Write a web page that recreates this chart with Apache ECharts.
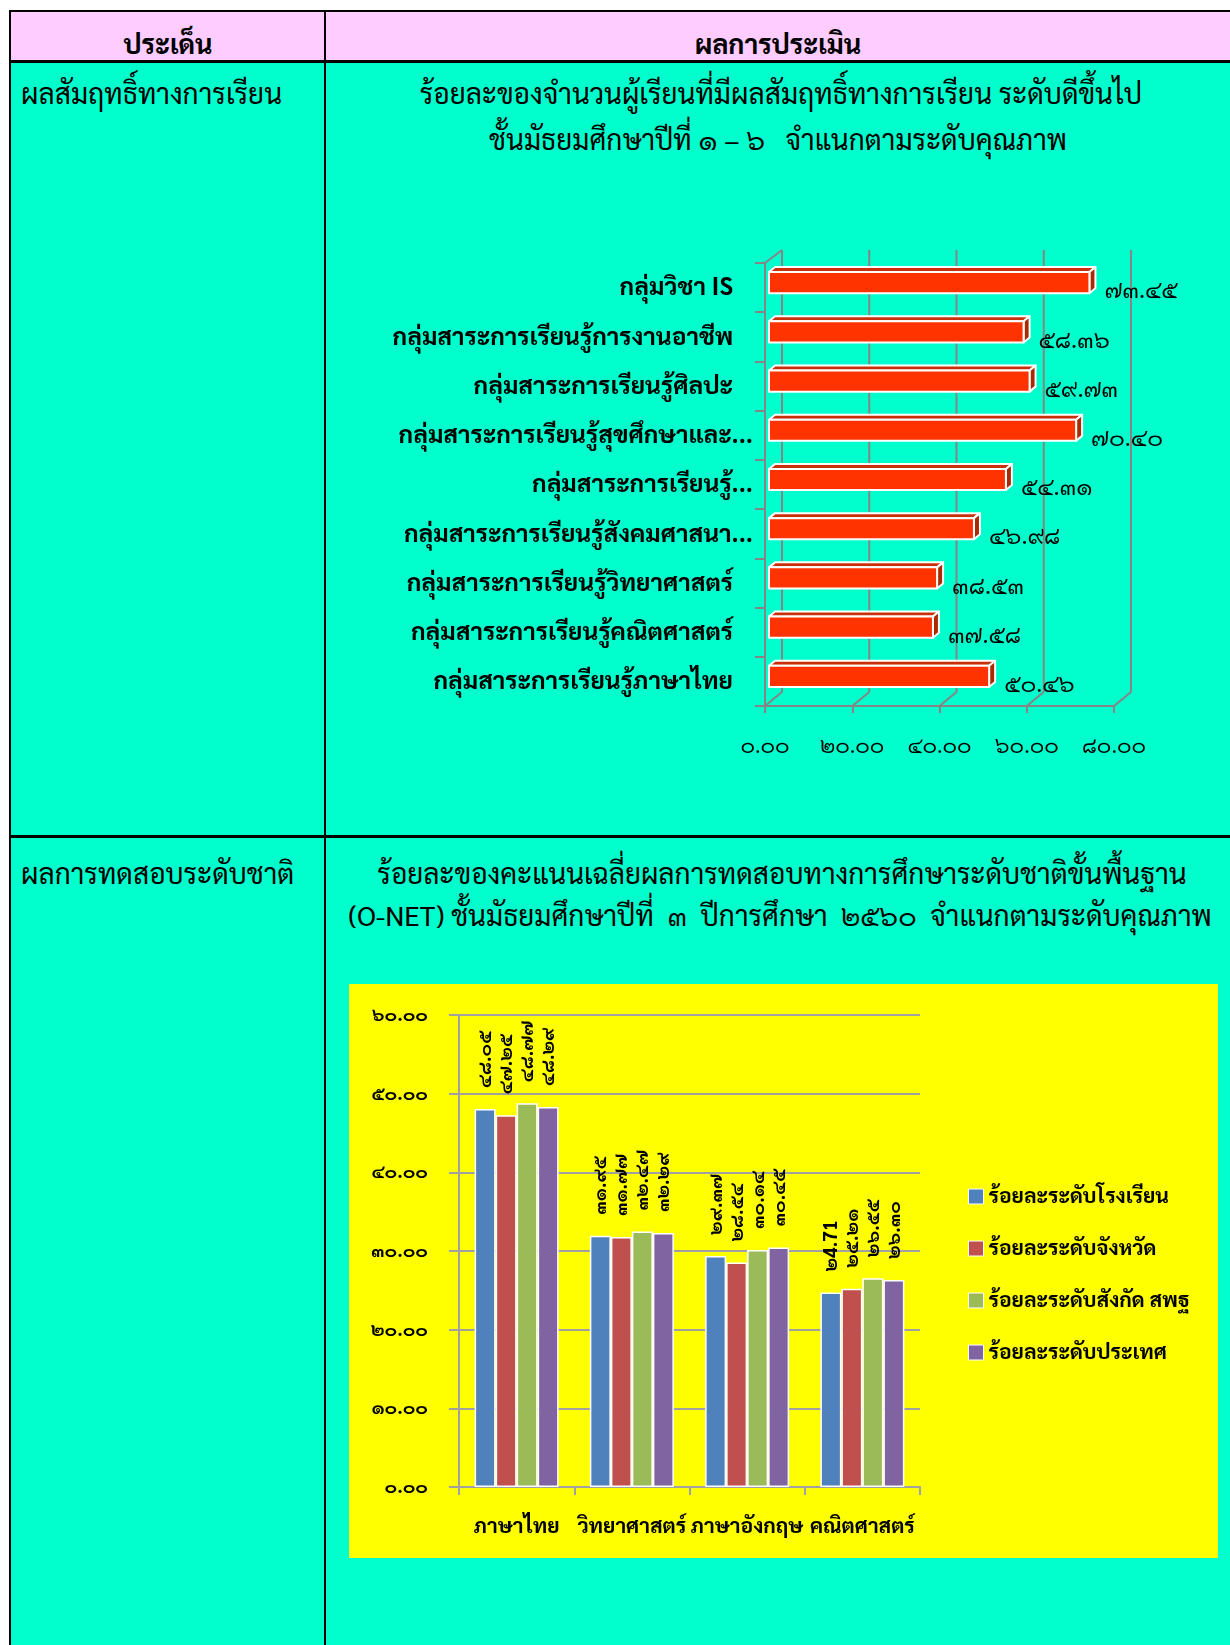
<!DOCTYPE html>
<html>
<head>
<meta charset="utf-8">
<script src="https://cdn.jsdelivr.net/npm/echarts@6/dist/echarts.min.js"></script>
<style>
  html, body { margin: 0; padding: 0; background: #fff; }
  body { width: 1230px; height: 1645px; position: relative; overflow: hidden;
         font-family: 'Sarabun', 'TH Sarabun New', 'Noto Sans Thai Looped', 'Noto Sans Thai', 'Garuda', 'Loma', 'Noto Sans', sans-serif; }
  .abs { position: absolute; }
  .line { position: absolute; background: #000; }
  .txt { position: absolute; white-space: nowrap; color: #000; font-size: 28px; line-height: 1; }
  .ctr { transform: translate(-50%, -50%); }
  .lft { transform: translate(0, -50%); }
  #chart { position: absolute; left: 0; top: 0; width: 1230px; height: 1645px; }
</style>
</head>
<body>
  <div class="abs" style="left:10px;top:11px;width:1220px;height:50px;background:#FFCCFF;"></div>
  <div class="abs" style="left:10px;top:61px;width:1220px;height:1584px;background:#00FFCC;"></div>
  <div class="abs" style="left:349px;top:984px;width:869px;height:574px;background:#FFFF00;"></div>

  <div class="line" style="left:9px;top:10px;width:1221px;height:2px;"></div>
  <div class="line" style="left:9px;top:10px;width:2px;height:1635px;"></div>
  <div class="line" style="left:324px;top:10px;width:2px;height:1635px;"></div>
  <div class="line" style="left:9px;top:60px;width:1221px;height:3px;"></div>
  <div class="line" style="left:9px;top:835px;width:1221px;height:3px;"></div>

  <div class="txt ctr" style="left:168px;top:42px;font-weight:bold;font-size:27px;">ประเด็น</div>
  <div class="txt ctr" style="left:778px;top:42px;font-weight:bold;font-size:27px;">ผลการประเมิน</div>

  <div class="txt lft" style="left:21px;top:92px;">ผลสัมฤทธิ์ทางการเรียน</div>
  <div class="txt ctr" style="left:781px;top:92px;">ร้อยละของจำนวนผู้เรียนที่มีผลสัมฤทธิ์ทางการเรียน ระดับดีขึ้นไป</div>
  <div class="txt ctr" style="left:778px;top:138px;white-space:pre;">ชั้นมัธยมศึกษาปีที่ ๑ – ๖   จำแนกตามระดับคุณภาพ</div>

  <div class="txt lft" style="left:21px;top:872px;">ผลการทดสอบระดับชาติ</div>
  <div class="txt ctr" style="left:782px;top:872px;">ร้อยละของคะแนนเฉลี่ยผลการทดสอบทางการศึกษาระดับชาติขั้นพื้นฐาน</div>
  <div class="txt ctr" style="left:780px;top:914px;white-space:pre;">(O-NET) ชั้นมัธยมศึกษาปีที่  ๓  ปีการศึกษา  ๒๕๖๐  จำแนกตามระดับคุณภาพ</div>

  <div id="chart"></div>

<script>
// ---------- Chart 1 data ----------
const groupLabels = [
  'กลุ่มวิชา IS',
  'กลุ่มสาระการเรียนรู้การงานอาชีพ',
  'กลุ่มสาระการเรียนรู้ศิลปะ',
  'กลุ่มสาระการเรียนรู้สุขศึกษาและ...',
  'กลุ่มสาระการเรียนรู้...',
  'กลุ่มสาระการเรียนรู้สังคมศาสนา...',
  'กลุ่มสาระการเรียนรู้วิทยาศาสตร์',
  'กลุ่มสาระการเรียนรู้คณิตศาสตร์',
  'กลุ่มสาระการเรียนรู้ภาษาไทย'
];
const groupValues = [73.45, 58.36, 59.73, 70.40, 54.31, 46.98, 38.53, 37.58, 50.46];
const valueTicks = [0, 20, 40, 60, 80];

// ---------- Chart 2 data ----------
const subjects = ['ภาษาไทย', 'วิทยาศาสตร์', 'ภาษาอังกฤษ', 'คณิตศาสตร์'];
const seriesNames = ['ร้อยละระดับโรงเรียน', 'ร้อยละระดับจังหวัด', 'ร้อยละระดับสังกัด สพฐ', 'ร้อยละระดับประเทศ'];
const schoolVals   = [48.05, 31.95, 29.37, 24.71];
const provinceVals = [47.25, 31.77, 28.54, 25.21];
const obecVals     = [48.77, 32.47, 30.14, 26.55];
const nationVals   = [48.29, 32.29, 30.45, 26.30];
const schoolLbls   = ['๔๘.๐๕', '๓๑.๙๕', '๒๙.๓๗', '๒4.71'];
const provinceLbls = ['๔๗.๒๕', '๓๑.๗๗', '๒๘.๕๔', '๒๕.๒๑'];
const obecLbls     = ['๔๘.๗๗', '๓๒.๔๗', '๓๐.๑๔', '๒๖.๕๕'];
const nationLbls   = ['๔๘.๒๙', '๓๒.๒๙', '๓๐.๔๕', '๒๖.๓๐'];
const scoreTicksMax = 60;

const FONT = "'Sarabun','TH Sarabun New','Noto Sans Thai Looped','Noto Sans Thai','Garuda','Loma','Noto Sans',sans-serif";
const thai = s => String(s).replace(/[0-9]/g, d => '๐๑๒๓๔๕๖๗๘๙'[+d]);
const GRAY = '#858585';

const chart = echarts.init(document.getElementById('chart'), null, { renderer: 'canvas' });

const DX = 17, DY = 13;        // box depth
const BX = 4, BY = -5;         // bar front offset inside the box
const SX = 6, SY = 5;          // bar depth

const yData1 = groupLabels.map(s => s.endsWith('...') ? s : { value: s, textStyle: { padding: [0, 20, 0, 0] } });

const colors2 = ['#4F81BD', '#C0504D', '#9BBB59', '#8064A2'];
const vals2 = [schoolVals, provinceVals, obecVals, nationVals];
const lbls2 = [schoolLbls, provinceLbls, obecLbls, nationLbls];

const option = {
  animation: false,
  textStyle: { fontFamily: FONT },
  grid: [
    { left: 765, top: 263, width: 349, height: 443 },
    { left: 459, top: 1015, width: 461, height: 472 }
  ],
  xAxis: [
    {
      gridIndex: 0, type: 'value', min: 0, max: 80, interval: 20,
      axisLine: { show: true, lineStyle: { color: GRAY, width: 2 } },
      axisTick: { show: true, length: 7, lineStyle: { color: GRAY, width: 2 } },
      splitLine: { show: false },
      axisLabel: { formatter: v => thai(v.toFixed(2)), fontSize: 22, color: '#000', margin: 29, fontFamily: FONT }
    },
    {
      gridIndex: 1, type: 'category', data: subjects,
      axisLine: { show: true, lineStyle: { color: '#a0a0a0', width: 2 } },
      axisTick: { show: true, length: 8, lineStyle: { color: '#a0a0a0', width: 2 } },
      axisLabel: { fontSize: 21, fontWeight: 'bold', color: '#000', margin: 29, fontFamily: FONT, interval: 0 }
    }
  ],
  yAxis: [
    {
      gridIndex: 0, type: 'category', inverse: true, data: yData1,
      axisLine: { show: true, lineStyle: { color: GRAY, width: 2 } },
      axisTick: { show: true, length: 10, lineStyle: { color: GRAY, width: 2 } },
      axisLabel: { fontSize: 24.5, fontWeight: 'bold', color: '#000', margin: 12, fontFamily: FONT, interval: 0 }
    },
    {
      gridIndex: 1, type: 'value', min: 0, max: scoreTicksMax, interval: 10,
      axisLine: { show: true, lineStyle: { color: '#a0a0a0', width: 2 } },
      axisTick: { show: true, length: 10, lineStyle: { color: '#a0a0a0', width: 2 } },
      splitLine: { show: true, lineStyle: { color: '#a0a0a0', width: 2 } },
      axisLabel: { formatter: v => thai(v.toFixed(2)), fontSize: 19, fontWeight: 'bold', color: '#000', margin: 31, fontFamily: FONT }
    }
  ],
  legend: {
    data: seriesNames, orient: 'vertical', left: 963, top: 1181,
    itemWidth: 15, itemHeight: 15, itemGap: 31, icon: 'rect',
    itemStyle: { borderColor: '#fff', borderWidth: 1 },
    textStyle: { fontSize: 21, fontWeight: 'bold', color: '#000', lineHeight: 21, fontFamily: FONT }
  },
  series: [
    {
      type: 'custom', name: 'frame', xAxisIndex: 0, yAxisIndex: 0, silent: true, clip: false, z: 1,
      data: valueTicks.map(v => [v, 0]),
      renderItem: (params, api) => {
        const c = api.coord([api.value(0), 0]);
        const cs = params.coordSys;
        const x = c[0], top = cs.y, bot = cs.y + cs.height;
        const st = { stroke: GRAY, lineWidth: 2 };
        const kids = [
          { type: 'line', shape: { x1: x + DX, y1: top - DY, x2: x + DX, y2: bot - DY - 1 }, style: st },
          { type: 'line', shape: { x1: x + DX, y1: bot - DY - 1, x2: x, y2: bot }, style: st }
        ];
        if (api.value(0) === 0) {
          kids.push({ type: 'line', shape: { x1: x, y1: top, x2: x + DX, y2: top - DY }, style: st });
        }
        return { type: 'group', children: kids };
      }
    },
    {
      type: 'custom', name: 'bars3d', xAxisIndex: 0, yAxisIndex: 0, silent: true, clip: false, z: 3,
      data: groupValues.map((v, i) => [v, i]),
      renderItem: (params, api) => {
        const v = api.value(0), i = api.value(1);
        const p0 = api.coord([0, i]), p1 = api.coord([v, i]);
        const band = api.size([0, 1])[1];
        const h = band * 0.43;
        const x0 = p0[0] + BX, x1 = p1[0] + BX;
        const cy = p0[1] + BY;
        const yT = cy - h / 2, yB = cy + h / 2;
        const border = { stroke: '#fff', lineWidth: 2, lineJoin: 'round' };
        return {
          type: 'group',
          children: [
            { type: 'polygon', shape: { points: [[x0, yT], [x0 + SX, yT - SY], [x1 + SX, yT - SY], [x1, yT]] },
              style: Object.assign({ fill: '#C8300A' }, border) },
            { type: 'polygon', shape: { points: [[x1, yT], [x1 + SX, yT - SY], [x1 + SX, yB - SY], [x1, yB]] },
              style: Object.assign({ fill: '#A82A00' }, border) },
            { type: 'rect', shape: { x: x0, y: yT, width: x1 - x0, height: h },
              style: Object.assign({ fill: '#FF3300' }, border) },
            { type: 'text', x: x1 + SX + 9, y: cy + 8,
              style: { text: thai(v.toFixed(2)), fill: '#000', font: '24px ' + FONT, textVerticalAlign: 'middle', textAlign: 'left' } }
          ]
        };
      }
    }
  ].concat(seriesNames.map((n, k) => ({
    type: 'bar', name: n, xAxisIndex: 1, yAxisIndex: 1,
    data: vals2[k], barWidth: 21, barGap: '0%',
    itemStyle: { color: colors2[k], borderColor: '#fff', borderWidth: 1.5 },
    label: {
      show: true, position: 'top', rotate: 90, align: 'left', verticalAlign: 'middle', distance: 18,
      offset: [3, 0],
      formatter: p => lbls2[k][p.dataIndex],
      fontSize: 19, fontWeight: 'bold', color: '#000', fontFamily: FONT
    }
  })))
};

chart.setOption(option);
</script>
</body>
</html>
